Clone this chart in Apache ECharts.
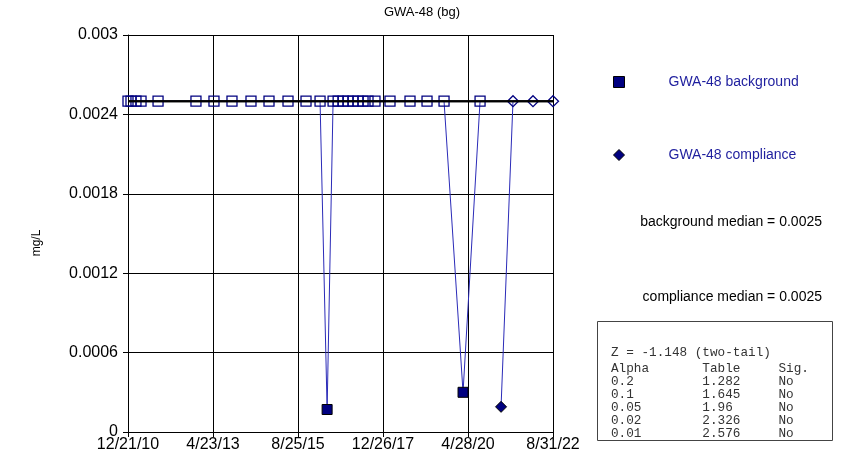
<!DOCTYPE html>
<html><head><meta charset="utf-8">
<script src="https://cdn.jsdelivr.net/npm/echarts@6/dist/echarts.min.js"></script>
<style>html,body{margin:0;padding:0;background:#fff}#c{width:844px;height:473px}</style>
</head><body><div id="c"></div>
<script>
// ---- data ----
const startDate = '2010-12-21';
const endDate = '2022-08-31';
const xTickLabels = ['12/21/10', '4/23/13', '8/25/15', '12/26/17', '4/28/20', '8/31/22'];

const bgDates = ['2010-12-21','2011-01-20','2011-03-11','2011-05-01','2011-10-19','2012-11-03',
  '2013-05-03','2013-10-31','2014-05-10','2014-11-07','2015-05-17','2015-11-14','2016-04-03',
  '2016-06-13','2016-08-12','2016-10-02','2016-11-21','2017-01-09','2017-02-28','2017-04-20',
  '2017-06-09','2017-07-29','2017-10-07','2018-03-07','2018-09-24','2019-03-14','2019-09-01',
  '2020-03-10','2020-08-28'];
const bgValues = [0.0025,0.0025,0.0025,0.0025,0.0025,0.0025,
  0.0025,0.0025,0.0025,0.0025,0.0025,0.0025,0.0025,
  0.00017,0.0025,0.0025,0.0025,0.0025,0.0025,0.0025,
  0.0025,0.0025,0.0025,0.0025,0.0025,0.0025,0.0025,
  0.0003,0.0025];
const bgDetected = [0,0,0,0,0,0, 0,0,0,0,0,0,0, 1,0,0,0,0,0,0, 0,0,0,0,0,0,0, 1,0];

const compDates = ['2021-03-27','2021-07-25','2022-02-11','2022-08-31'];
const compValues = [0.00019,0.0025,0.0025,0.0025];
const compDetected = [1,0,0,0];

const bgMedian = 0.0025;
const compMedian = 0.0025;
const zStat = '-1.148';
const alphas = ['0.2','0.1','0.05','0.02','0.01'];
const tableVals = ['1.282','1.645','1.96','2.326','2.576'];
const sigs = ['No','No','No','No','No'];

// ---- helpers ----
const DAY = 86400000;
const off = d => Math.round((Date.parse(d) - Date.parse(startDate)) / DAY);
const xMax = off(endDate);
const xInt = xMax / 5;

const NAVY = '#000080';
const LINE = '#2b2bb8';

function pts(dates, vals, det) {
  return dates.map((d, i) => ({
    value: [off(d), vals[i]],
    itemStyle: det[i]
      ? { color: NAVY, borderColor: '#000', borderWidth: 1 }
      : { color: 'rgba(0,0,0,0)', borderColor: NAVY, borderWidth: 1.3 }
  }));
}

function pad(s, n) { while (s.length < n) s += ' '; return s; }
const mono = '12.7px "Liberation Mono", monospace';
const boxLines = [];
boxLines.push({ text: 'Z = ' + zStat + ' (two-tail)', y: 353 });
boxLines.push({ text: pad('Alpha', 12) + pad('Table', 10) + 'Sig.', y: 369 });
alphas.forEach((a, i) => boxLines.push({ text: pad(a, 12) + pad(tableVals[i], 10) + sigs[i], y: 382 + i * 12.8 }));

const sans = '"Liberation Sans", Arial';
function medianSeries(name, m) {
  return {
    name: name, type: 'line', symbol: 'none', silent: true, z: 6,
    data: [[0, m], [xMax, m]],
    lineStyle: { color: '#000', width: 2 }
  };
}

const chart = echarts.init(document.getElementById('c'), null, { renderer: 'canvas' });
chart.setOption({
  animation: false,
  backgroundColor: '#fff',
  title: {
    text: 'GWA-48 (bg)', left: 'center', top: 1,
    textStyle: { fontFamily: sans, fontSize: 13, fontWeight: 'normal', color: '#000' }
  },
  grid: { left: 128, right: 291, top: 35, bottom: 41, containLabel: false },
  legend: {
    orient: 'vertical', left: 608, top: 70, itemGap: 59, itemWidth: 11, itemHeight: 11,
    textStyle: { fontFamily: sans, fontSize: 14, color: '#1e1e9e', padding: [0, 0, 0, 39] },
    data: [
      { name: 'GWA-48 background', icon: 'rect', itemStyle: { color: NAVY, borderColor: '#000', borderWidth: 1 } },
      { name: 'GWA-48 compliance', icon: 'diamond', itemStyle: { color: NAVY, borderColor: '#000', borderWidth: 1 } }
    ]
  },
  xAxis: {
    type: 'value', min: 0, max: xMax, interval: xInt,
    axisLine: { show: true, lineStyle: { color: '#000', width: 1 } },
    axisTick: { show: true, length: 5, lineStyle: { color: '#000' } },
    axisLabel: {
      fontFamily: sans, fontSize: 16, color: '#000', margin: 5,
      formatter: v => xTickLabels[Math.round(v / xInt)] || ''
    },
    splitLine: { show: true, lineStyle: { color: '#000', width: 1 } }
  },
  yAxis: {
    type: 'value', min: 0, max: 0.003, interval: 0.0006,
    axisLine: { show: true, lineStyle: { color: '#000', width: 1 } },
    axisTick: { show: true, length: 5, lineStyle: { color: '#000' } },
    axisLabel: {
      fontFamily: sans, fontSize: 16, color: '#000', margin: 10,
      formatter: v => String(+v.toFixed(4))
    },
    splitLine: { show: true, lineStyle: { color: '#000', width: 1 } }
  },
  series: [
    {
      name: 'GWA-48 background', type: 'line', symbol: 'rect', symbolSize: 10,
      data: pts(bgDates, bgValues, bgDetected),
      lineStyle: { color: LINE, width: 1 },
      itemStyle: { color: NAVY, borderColor: '#000', borderWidth: 1 },
      z: 3
    },
    {
      name: 'GWA-48 compliance', type: 'line', symbol: 'diamond', symbolSize: 11,
      data: pts(compDates, compValues, compDetected),
      lineStyle: { color: LINE, width: 1 },
      itemStyle: { color: NAVY, borderColor: '#000', borderWidth: 1 },
      z: 3
    },
    medianSeries('background median', bgMedian),
    medianSeries('compliance median', compMedian)
  ],
  graphic: [
    { type: 'text', x: 37, y: 243, rotation: Math.PI / 2, style: { text: 'mg/L', font: '12px ' + sans, fill: '#000', align: 'center', verticalAlign: 'middle' } },
    { type: 'text', right: 22, top: 215, style: { text: 'background median = ' + bgMedian, font: '14px ' + sans, fill: '#000' } },
    { type: 'text', right: 22, top: 290, style: { text: 'compliance median = ' + compMedian, font: '14px ' + sans, fill: '#000' } },
    { type: 'rect', shape: { x: 597.5, y: 321.5, width: 235, height: 119 }, style: { fill: '#fff', stroke: '#444', lineWidth: 1 } },
    ...boxLines.map(l => ({ type: 'text', x: 611, y: l.y, style: { text: l.text, font: mono, fill: '#333', verticalAlign: 'middle' } }))
  ]
});
</script>
</body></html>
